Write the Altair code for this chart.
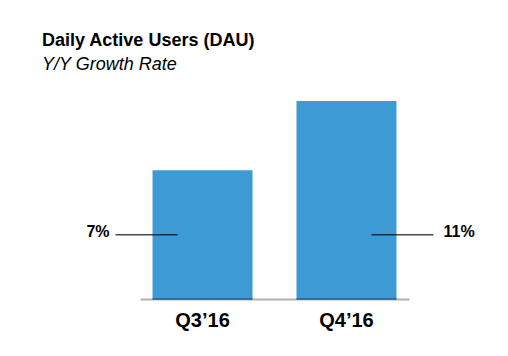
import altair as alt
import pandas as pd

quarters = ["Q3\u201916", "Q4\u201916"]
bar_index = [65, 100]          # relative bar heights (unlabeled)
growth = ["7%", "11%"]
label_level = bar_index[0] / 2  # leader lines sit at half of first bar

df = pd.DataFrame({"q": quarters, "v": bar_index, "g": growth,
                   "ly": [label_level] * 2, "z": [0, 0]})

FONT = "Liberation Sans"
BLUE = "#3d9ad4"

x = alt.X("q:N", sort=quarters, title=None,
          scale=alt.Scale(paddingInner=0.3056, paddingOuter=0.087),
          axis=alt.Axis(labelAngle=0, ticks=False, domainColor="#b0b0b0", domainWidth=2,
                        labelFont=FONT, labelFontSize=20, labelFontWeight="bold",
                        labelColor="#000000", labelBaseline="alphabetic", labelPadding=27))
ysc = alt.Scale(domain=[0, 100])

base = alt.Chart(df)
bars = base.mark_bar(color=BLUE).encode(x=x, y=alt.Y("v:Q", scale=ysc, axis=None))
bottom = base.mark_tick(color="#1c5a86", size=100, thickness=2).encode(
    x=x, y=alt.Y("z:Q", scale=ysc, axis=None))

ly = alt.Y("ly:Q", scale=ysc, axis=None)
left = base.transform_filter(alt.datum.g == growth[0])
right = base.transform_filter(alt.datum.g == growth[1])

rule_l = left.mark_tick(color="#000000", thickness=1.5, size=62, xOffset=-56).encode(x=x, y=ly)
rule_r = right.mark_tick(color="#000000", thickness=1.5, size=62, xOffset=56).encode(x=x, y=ly)
text_l = left.mark_text(align="right", baseline="middle", dx=-93, dy=-3, font=FONT,
                        fontSize=16, fontWeight="bold", color="#000000").encode(x=x, y=ly, text="g:N")
text_r = right.mark_text(align="left", baseline="middle", dx=97, dy=-3, font=FONT,
                         fontSize=16, fontWeight="bold", color="#000000").encode(x=x, y=ly, text="g:N")

chart = alt.layer(bars, bottom, rule_l, rule_r, text_l, text_r).properties(
    width=269, height=198,
    autosize=alt.AutoSizeParams(type="none"),
    padding={"left": 132, "top": 93, "right": 90, "bottom": 45},
    title=alt.TitleParams(
        "Daily Active Users (DAU)", subtitle="Y/Y Growth Rate",
        anchor="start", frame="group", dx=-98, offset=27,
        font=FONT, fontSize=18, fontWeight="bold", color="#000000",
        subtitleFont=FONT, subtitleFontSize=18, subtitleFontStyle="italic",
        subtitleColor="#000000", subtitlePadding=6),
).configure_view(stroke=None)

chart.save("out.html", embed_options={"renderer": "svg", "actions": False})
